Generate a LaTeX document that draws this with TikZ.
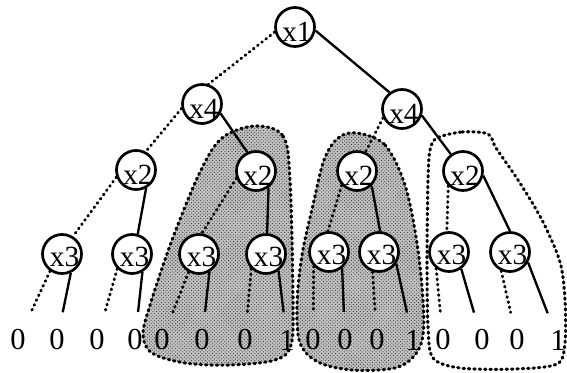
\documentclass[tikz,border=0pt]{standalone}
\usepackage{fontspec}
\setmainfont{Liberation Serif}
\usetikzlibrary{patterns}
\begin{document}
\begin{tikzpicture}[x=0.03cm, y=-0.03cm,
  bdd/.style={circle, draw, line width=2.3pt, fill=white,
              minimum size=1.17cm, inner sep=0pt},
  lbl/.style={font=\fontsize{25}{25}\selectfont, inner sep=0pt,
              xshift=1.7pt, yshift=-4.3pt},
  lbllow/.style={font=\fontsize{25}{25}\selectfont, inner sep=0pt,
              xshift=2.2pt, yshift=-2.6pt},
  leaf/.style={font=\fontsize{26}{26}\selectfont, inner sep=0pt},
  high/.style={line width=2pt},
  low/.style={line width=2.5pt, dash pattern=on 0.7pt off 3.8pt, line cap=round},
  tohigh/.style={high, shorten >=15pt},
  tolow/.style={low, shorten >=15pt},
  region/.style={line width=2.6pt, dash pattern=on 1.2pt off 3.4pt, line cap=round},
  shade/.style={fill=black!24},
  grain/.style={pattern=crosshatch dots, pattern color=black!80}
]
\useasboundingbox (0,0) rectangle (567,373);

% shaded sub-diagrams
\def\leftblob{(255,126) (283,136) (290,180) (293,300) (291,345) (275,360)
  (230,365) (185,363) (152,353) (143,335) (150,305) (172,240) (200,172) (222,138)}
\def\midblob{(357,133) (385,145) (405,185) (417,243) (423,300) (423,335)
  (415,355) (395,368) (352,370) (318,362) (300,343) (297,305) (302,255)
  (313,205) (324,160) (338,138)}
\path[shade] plot[smooth cycle, tension=0.55] coordinates {\leftblob};
\path[grain] plot[smooth cycle, tension=0.55] coordinates {\leftblob};
\draw[region] plot[smooth cycle, tension=0.55] coordinates {\leftblob};
\path[shade] plot[smooth cycle, tension=0.55] coordinates {\midblob};
\path[grain] plot[smooth cycle, tension=0.55] coordinates {\midblob};
\draw[region] plot[smooth cycle, tension=0.55] coordinates {\midblob};
% outlined sub-diagram
\draw[region] plot[smooth cycle, tension=0.5] coordinates {
  (437,138) (462,132) (488,134) (496,148) (518,180) (542,220) (560,262)
  (565,300) (565,343) (557,364) (515,369) (460,368) (433,358) (428,327)
  (427,260) (428,180) (430,150)};

% decision nodes
\node[bdd, label={[lbl]center:x1}] (r) at (295,27) {};
\node[bdd, label={[lbl]center:x4}] (a) at (202,104) {};
\node[bdd, label={[lbl]center:x4}] (b) at (402,109) {};
\node[bdd, label={[lbl]center:x2}] (c1) at (136,170) {};
\node[bdd, label={[lbl]center:x2}] (c2) at (256,171) {};
\node[bdd, label={[lbl]center:x2}] (c3) at (357,171) {};
\node[bdd, label={[lbl]center:x2}] (c4) at (463,171) {};
\node[bdd, label={[lbllow]center:x3}] (d1) at (62,254) {};
\node[bdd, label={[lbllow]center:x3}] (d2) at (132,254) {};
\node[bdd, label={[lbllow]center:x3}] (d3) at (199,254) {};
\node[bdd, label={[lbllow]center:x3}] (d4) at (266,254) {};
\node[bdd, label={[lbllow]center:x3}] (d5) at (329,252) {};
\node[bdd, label={[lbllow]center:x3}] (d6) at (379,252) {};
\node[bdd, label={[lbllow]center:x3}] (d7) at (449,252) {};
\node[bdd, label={[lbllow]center:x3}] (d8) at (510,252) {};

% terminal values
\foreach \i/\x/\v in {1/18/0, 2/57/0, 3/97/0, 4/135/0, 5/162/0, 6/202/0,
    7/245/0, 8/287/1, 9/313/0, 10/345/0, 11/377/0, 12/413/1,
    13/443/0, 14/482/0, 15/517/0, 16/558/1}
  \node[leaf] (l\i) at (\x,340) {\v};

% edges between decision nodes (dotted = 0-branch, solid = 1-branch)
\draw[low]  (r.194)  -- (a.72);
\draw[high] (r.-10)  -- (b.127);
\draw[low]  (a.192)  -- (c1.62);
\draw[high] (a.-27)  -- (c2.115);
\draw[low]  (b.-155) -- (c3.66);
\draw[high] (b.-18)  -- (c4.126);
\draw[low]  (c1.-160) -- (d1.58);
\draw[high] (c1.-61)  -- (d2.74);
\draw[low]  (c2.-160) -- (d3.82);
\draw[high] (c2.-53)  -- (d4.87);
\draw[low]  (c3.-137) -- (d5.93);
\draw[high] (c3.-45)  -- (d6.87);
\draw[low]  (c4.-135) -- (d7.96);
\draw[high] (c4.-13)  -- (d8.90);

% edges to terminal values
\foreach \d/\lo/\hi/\alo/\ahi in {1/1/2/-125/-65, 2/3/4/-135/-60,
    3/5/6/-120/-60, 4/7/8/-135/-53, 5/9/10/-137/-51, 6/11/12/-108/-34,
    7/13/14/-128/-54, 8/15/16/-115/-30} {
  \draw[tolow]  (d\d.\alo) -- (l\lo);
  \draw[tohigh] (d\d.\ahi) -- (l\hi);
}
\end{tikzpicture}
\end{document}
